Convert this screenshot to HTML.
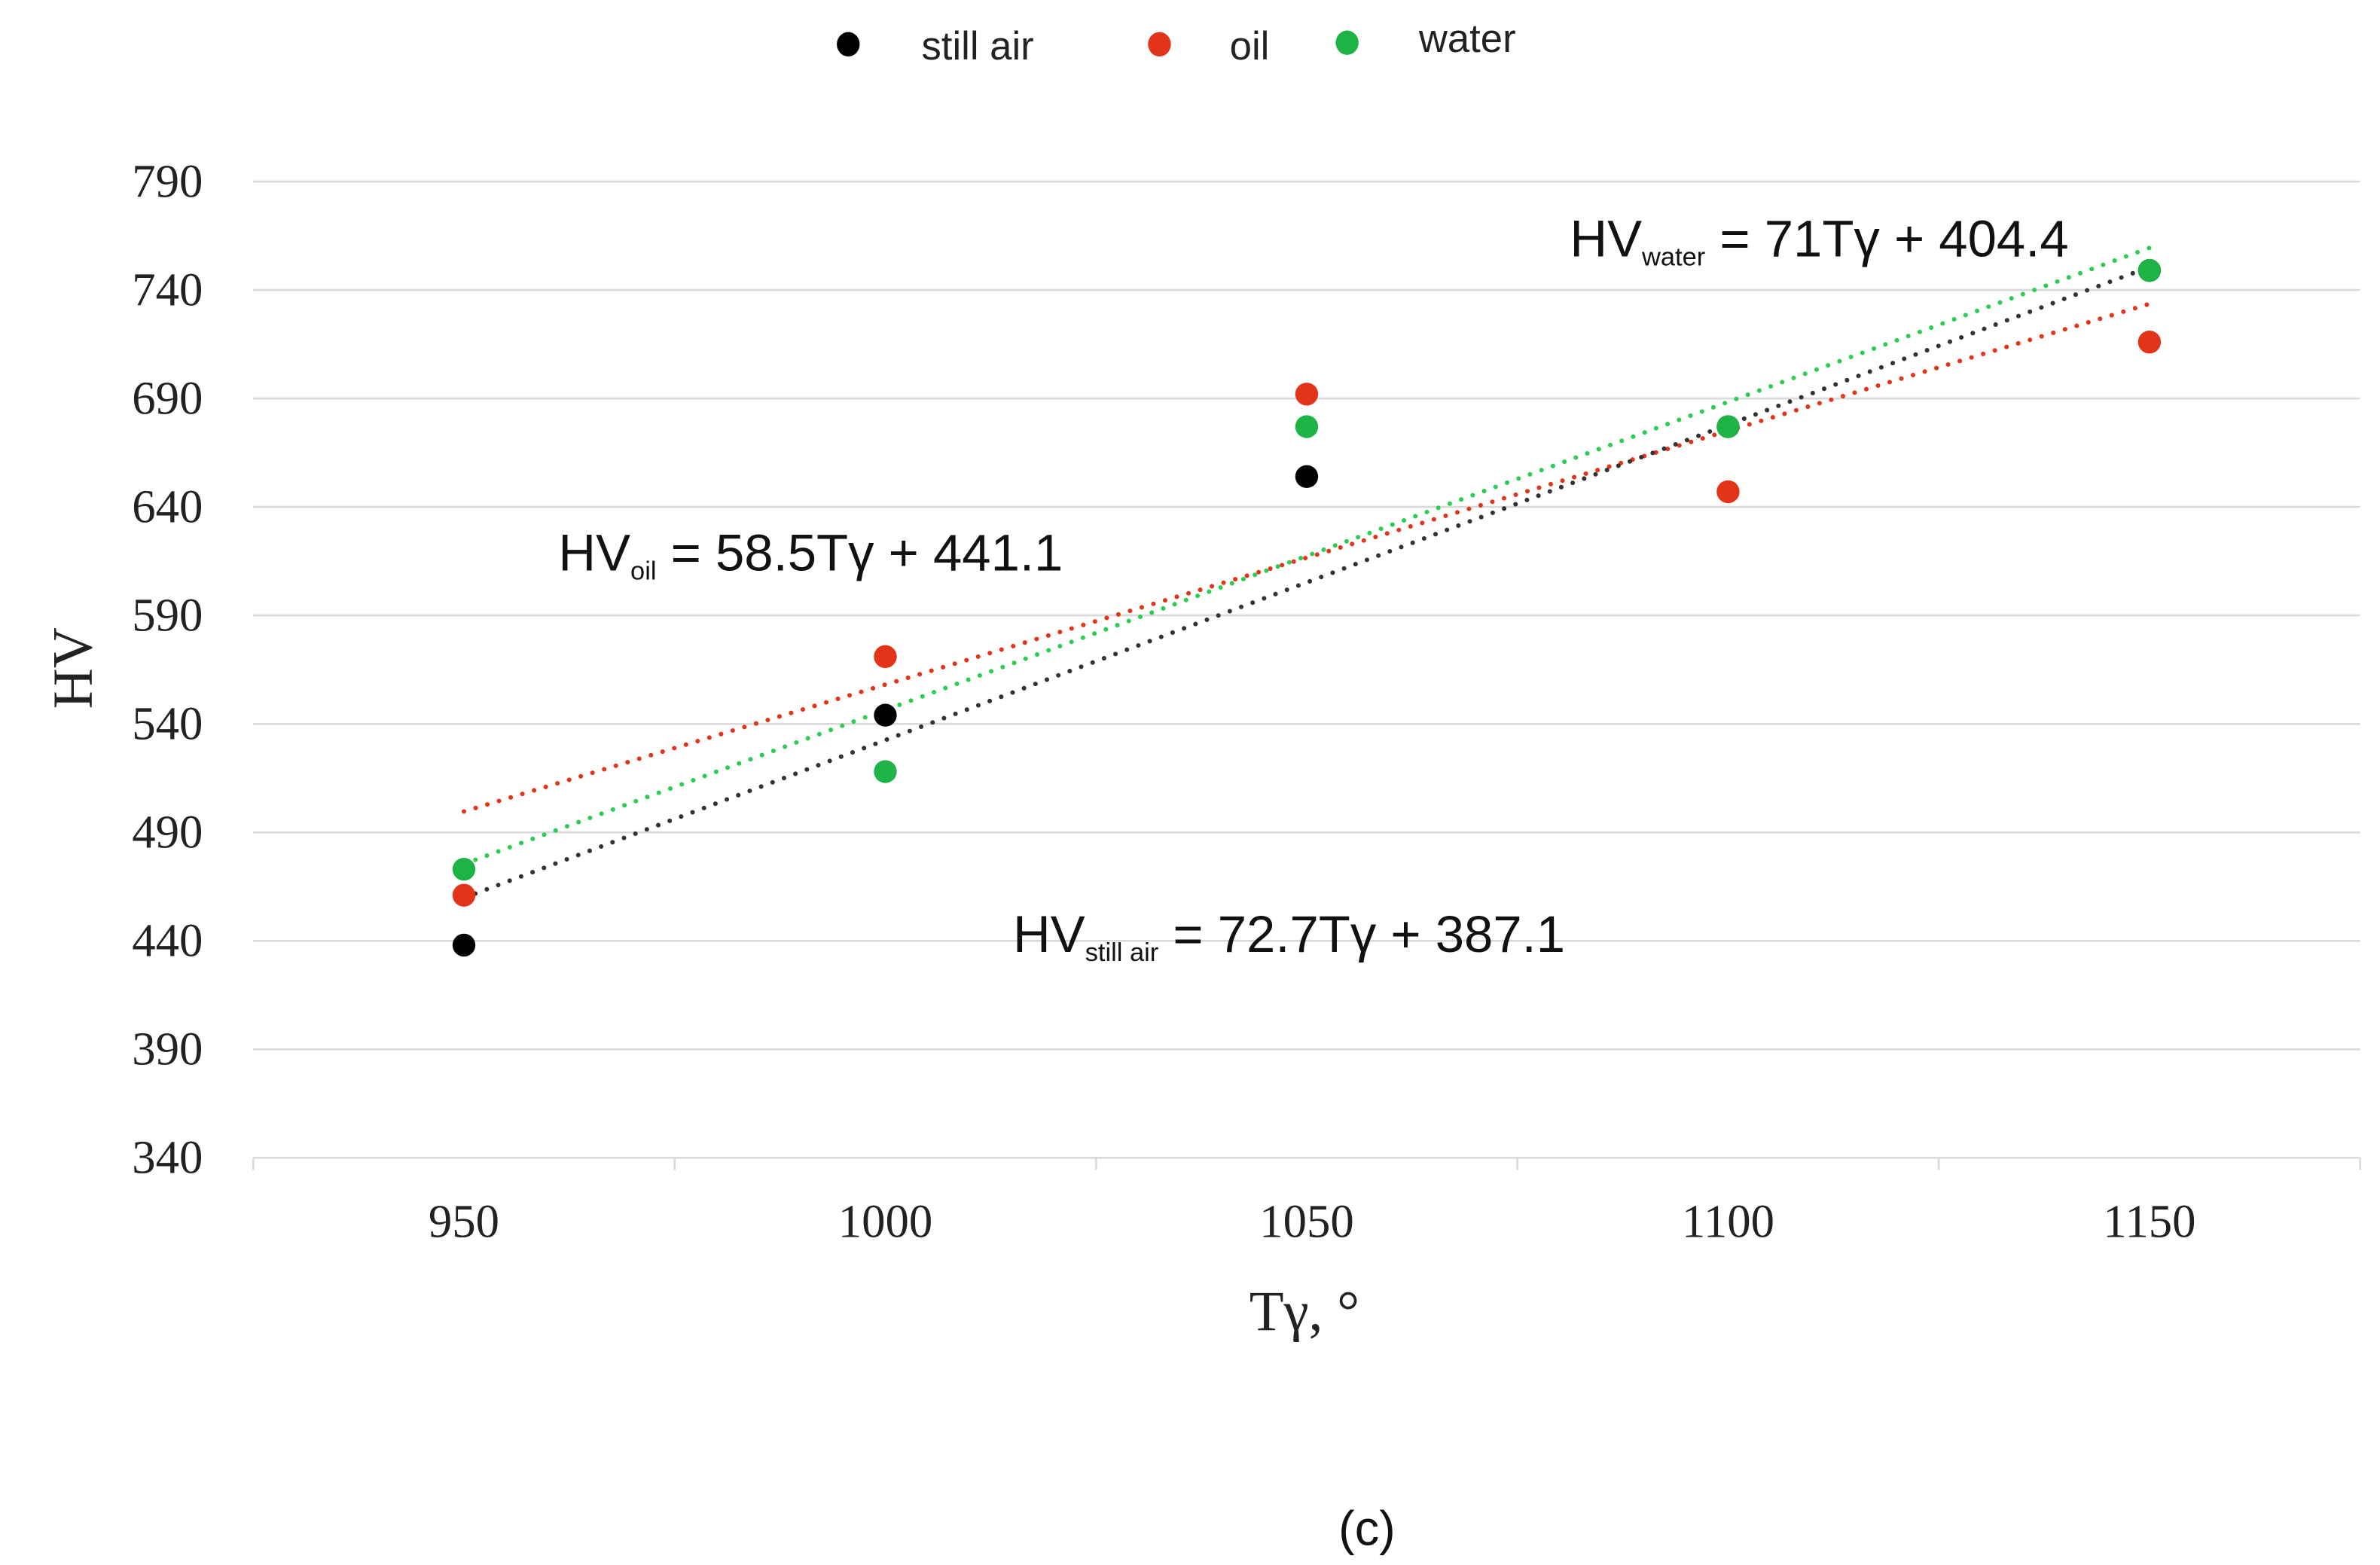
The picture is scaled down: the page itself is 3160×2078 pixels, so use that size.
<!DOCTYPE html>
<html><head><meta charset="utf-8"><style>
html,body{margin:0;padding:0;background:#fff;}
svg{display:block;}
</style></head><body>
<svg id="chart" width="3160" height="2078" viewBox="0 0 1560 1026" preserveAspectRatio="none" xmlns="http://www.w3.org/2000/svg">
<g id="legend" font-family="Liberation Sans, sans-serif" font-size="26" fill="#222">
 <g><ellipse cx="556" cy="29" rx="7.5" ry="8" fill="#000"/><text x="604" y="39">still air</text></g>
 <g><ellipse cx="760" cy="29" rx="7.5" ry="8" fill="#e3341a"/><text x="806" y="39">oil</text></g>
 <g><ellipse cx="883" cy="28" rx="7.5" ry="8" fill="#1db445"/><text x="930" y="34">water</text></g>
</g>
<g id="grid"></g>
<g id="yticks" font-family="Liberation Serif, serif" font-size="31" fill="#222" text-anchor="end"></g>
<g id="xaxis"></g>
<g id="trends"></g>
<g id="points"></g>
<text transform="translate(60,438) rotate(-90)" text-anchor="middle" font-family="Liberation Serif, serif" font-size="37" fill="#222">HV</text>
<text x="855" y="872" text-anchor="middle" font-family="Liberation Serif, serif" font-size="37" fill="#222">Tγ, °</text>
<g font-family="Liberation Sans, sans-serif" font-size="34" fill="#111">
 <text x="1029" y="168">HV<tspan font-size="17" dy="6">water</tspan><tspan dy="-6"> = 71Tγ + 404.4</tspan></text>
 <text x="366" y="374">HV<tspan font-size="17" dy="6">oil</tspan><tspan dy="-6"> = 58.5Tγ + 441.1</tspan></text>
 <text x="664" y="624">HV<tspan font-size="17" dy="6">still air</tspan><tspan dy="-6"> = 72.7Tγ + 387.1</tspan></text>
 <text x="896" y="1013" text-anchor="middle" font-size="32">(c)</text>
</g>
</svg>
<script>
const categories = [950, 1000, 1050, 1100, 1150];
const yTicks = [340, 390, 440, 490, 540, 590, 640, 690, 740, 790];
const stillAir = [438, 544, 654, 677, 749];
const oil = [461, 571, 692, 647, 716];
const water = [473, 518, 677, 677, 749];
const trendStillAir = [72.7, 387.1];
const trendOil = [58.5, 441.1];
const trendWater = [71, 404.4];

const NS = 'http://www.w3.org/2000/svg';
const X0 = 166, X1 = 1547, Y0 = 759, Y1 = 119, YMIN = 340, YMAX = 790;
const band = (X1 - X0) / categories.length;
const xs = i => X0 + band * (i + 0.5);
const ys = v => Y0 - (v - YMIN) / (YMAX - YMIN) * (Y0 - Y1);
function mk(tag, attrs, parent){const e=document.createElementNS(NS,tag);for(const k in attrs)e.setAttribute(k,attrs[k]);parent.appendChild(e);return e;}

const grid = document.getElementById('grid'), yt = document.getElementById('yticks');
yTicks.forEach(v => {
  const l = mk('line',{x1:X0,x2:X1,y1:ys(v),y2:ys(v),stroke:'#d9d9d9','stroke-width':1.3},grid);
  
  
  const t = mk('text',{x:133,y:ys(v)+10},yt);
  t.textContent = v;
  
  
});
const xa = document.getElementById('xaxis');
for (let i = 0; i <= categories.length; i++) {
  const x = X0 + band * i;
  const tk = mk('line',{x1:x,x2:x,y1:Y0,y2:Y0+8,stroke:'#d9d9d9','stroke-width':1.3},xa);
  
  
}
categories.forEach((c, i) => {
  const t = mk('text',{x:xs(i),y:811,'text-anchor':'middle','font-family':'Liberation Serif, serif','font-size':31,fill:'#222'},xa);
  t.textContent = c;
  
  
});

const tr = document.getElementById('trends');
[[trendOil,'#e3341a','oil'],[trendWater,'#2ecc55','water'],[trendStillAir,'#333','still-air']].forEach(([p,col,n]) => {
  const n0 = 1, n1 = categories.length;
  const l = mk('line',{x1:xs(0),y1:ys(p[0]*n0+p[1]),x2:xs(n1-1),y2:ys(p[0]*n1+p[1]),stroke:col,'stroke-width':3,'stroke-dasharray':'0 8','stroke-linecap':'round'},tr);
  
  
});

const pts = document.getElementById('points');
[[stillAir,'#000','still-air'],[oil,'#e3341a','oil'],[water,'#1db445','water']].forEach(([arr,col,n]) => {
  arr.forEach((v,i) => {
    const c = mk('circle',{cx:xs(i),cy:ys(v),r:7.5,fill:col},pts);
    
    
  });
});
</script>
</body></html>
